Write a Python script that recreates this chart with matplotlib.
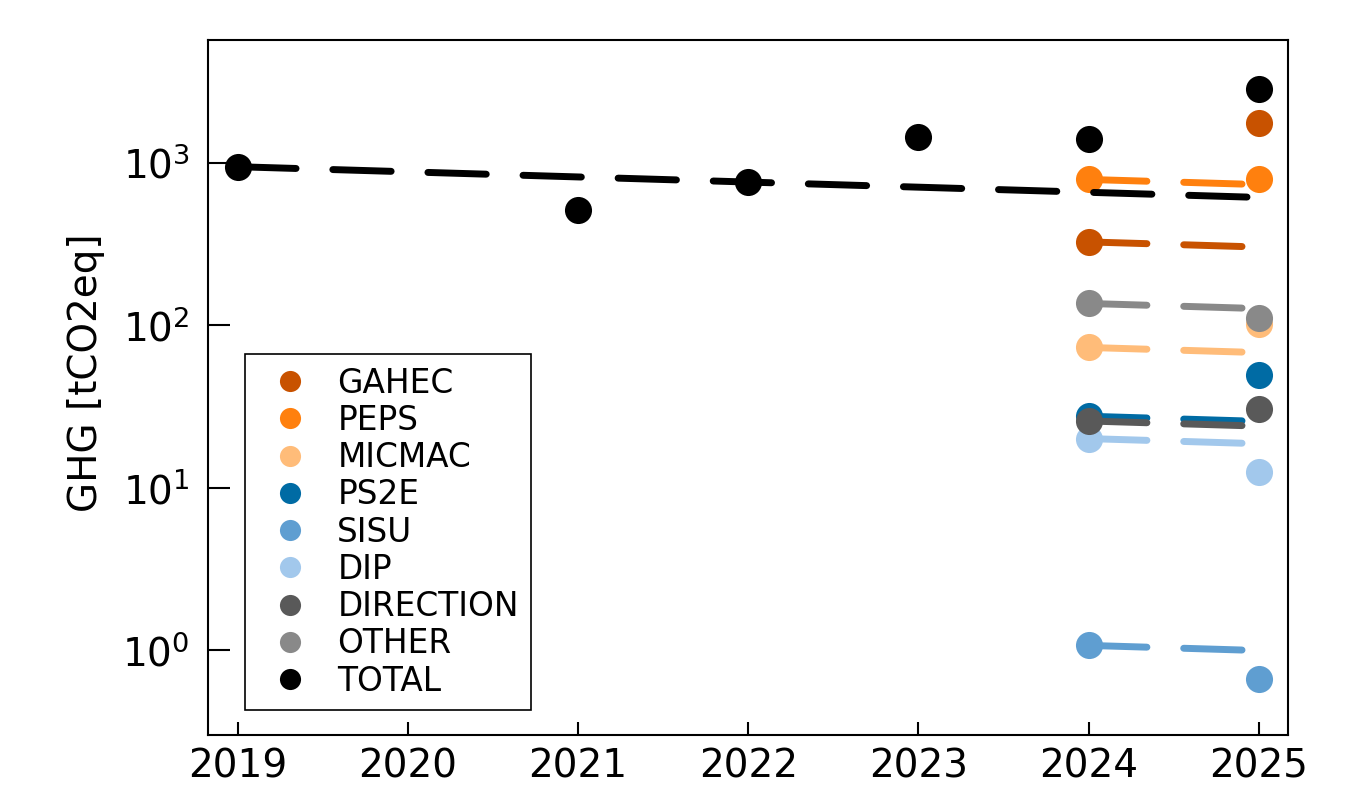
import matplotlib
matplotlib.use("Agg")
import matplotlib.pyplot as plt
from matplotlib.ticker import NullLocator

# Emissions per team (tCO2eq), measured in 2024 and 2025
teams = ["GAHEC", "PEPS", "MICMAC", "PS2E", "SISU", "DIP", "DIRECTION", "OTHER"]
team_colors = ["#C85200", "#FF800E", "#FFBC79", "#006BA4",
               "#5F9ED1", "#A2C8EC", "#595959", "#898989"]
team_2024 = [327, 793, 73.2, 27.6, 1.07, 20.1, 25.8, 136.6]
team_2025 = [1756, 798, 102, 49.5, 0.663, 12.6, 30.5, 110.4]

# Lab total over the years
total_years = [2019, 2021, 2022, 2023, 2024, 2025]
total_values = [950, 513, 764, 1446, 1406, 2858]

# Reduction trajectory: yearly decrease applied from a reference year
annual_factor = 0.93
year_ticks = [2019, 2020, 2021, 2022, 2023, 2024, 2025]

fig = plt.figure(figsize=(13.67, 8), dpi=100)
ax = fig.add_axes([0.152, 0.081, 0.790, 0.869])

line_kw = dict(lw=5, dashes=(8.4, 5.3), dash_capstyle="round", solid_capstyle="round")
msize = 19.5

for name, col, v24, v25 in zip(teams, team_colors, team_2024, team_2025):
    ax.plot([2024, 2025], [v24, v24 * annual_factor], color=col, **line_kw)
    ax.plot([2024, 2025], [v24, v25], ls="none", marker="o", ms=msize,
            color=col, mec="none", label=name)

ax.plot([2019, 2025], [total_values[0], total_values[0] * annual_factor ** 6],
        color="black", **line_kw)
ax.plot(total_years, total_values, ls="none", marker="o", ms=msize,
        color="black", mec="none", label="TOTAL")

ax.set_yscale("log")
ax.set_ylim(0.2995, 5730)
ax.set_xlim(2018.824, 2025.17)
ax.yaxis.set_minor_locator(NullLocator())
ax.set_xticks(year_ticks)
ax.set_xticklabels([str(y) for y in year_ticks])

ax.tick_params(axis="both", direction="in", width=1.5, labelsize=28)
ax.tick_params(axis="x", length=9.5, pad=9)
ax.tick_params(axis="y", length=15.5, pad=13)
for s in ax.spines.values():
    s.set_linewidth(1.5)

ax.set_ylabel("GHG [tCO2eq]", fontsize=28)
ax.yaxis.set_label_coords(-0.095, 0.522)

leg = ax.legend(loc="lower left", bbox_to_anchor=(0.034, 0.036), borderaxespad=0,
                fontsize=23.6, markerscale=0.78, labelspacing=0.13,
                handletextpad=0.45, borderpad=0.38, fancybox=False,
                edgecolor="black", framealpha=1)
leg.get_frame().set_linewidth(1.2)

fig.savefig("out.png", dpi=100)
